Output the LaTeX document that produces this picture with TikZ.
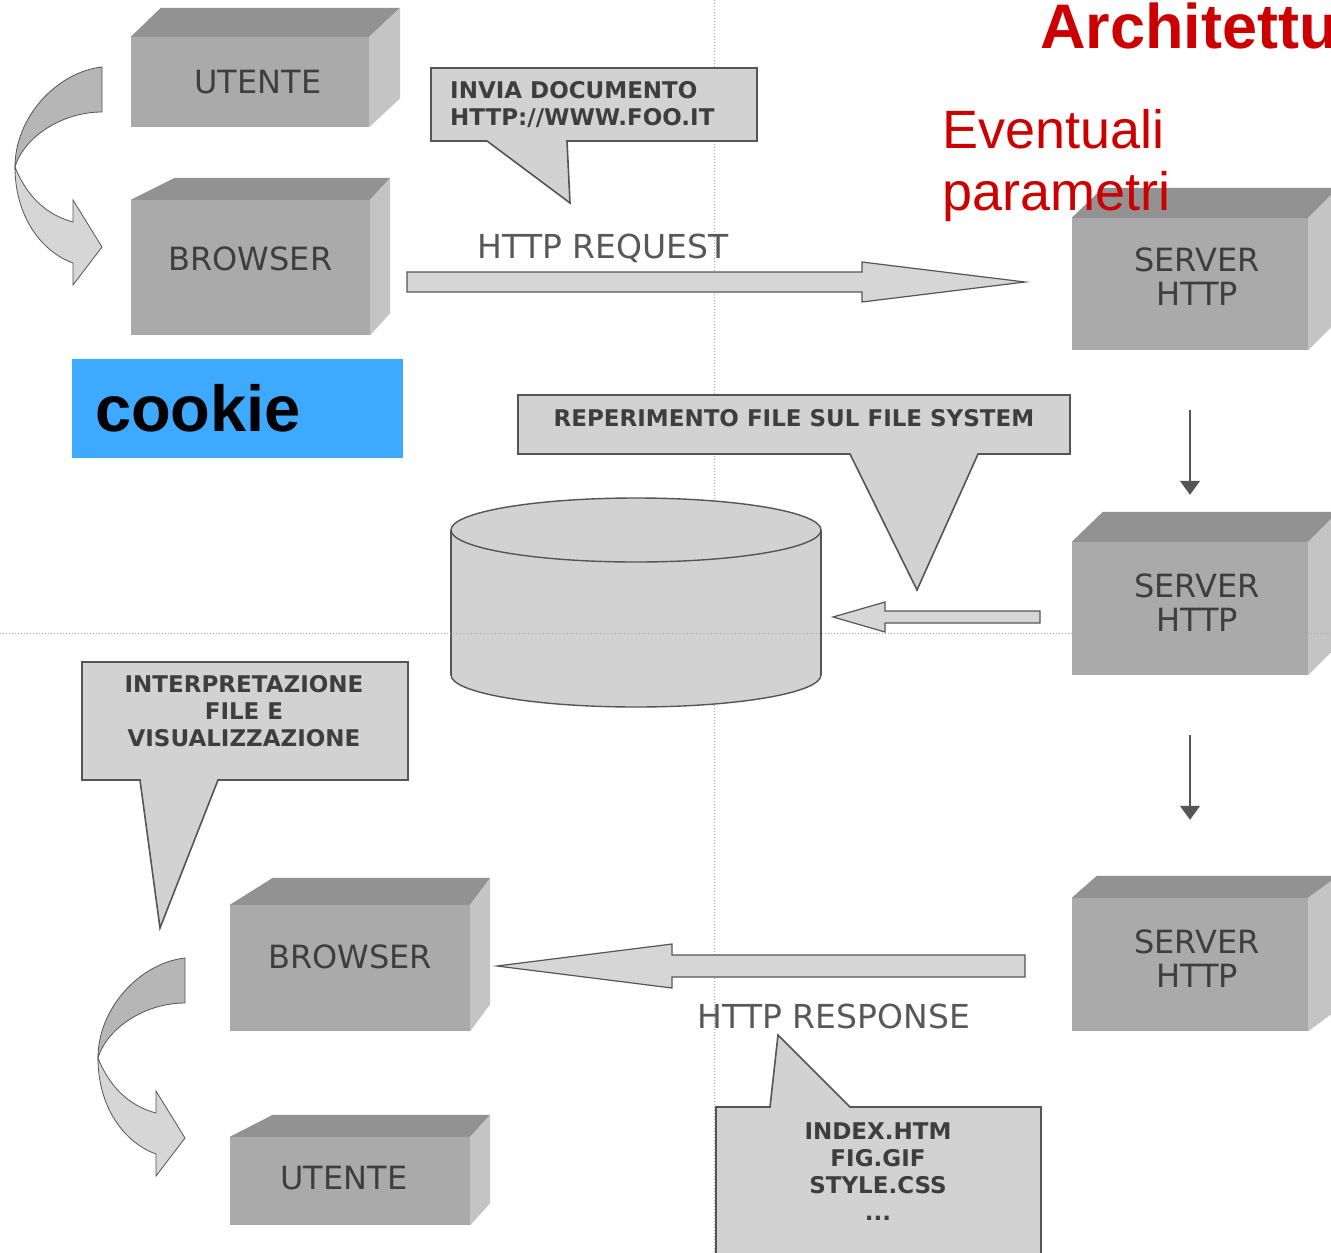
\documentclass[tikz,border=0pt]{standalone}
\usepackage{fontspec}
\setmainfont{Liberation Sans}
\newfontfamily\boxfont{DejaVu Sans}
\usetikzlibrary{calc,arrows.meta}

\definecolor{boxfront}{RGB}{170,170,170}
\definecolor{boxtop}{RGB}{146,146,146}
\definecolor{boxside}{RGB}{196,196,196}
\definecolor{boxtext}{RGB}{62,62,62}
\definecolor{callfill}{RGB}{210,210,210}
\definecolor{calledge}{RGB}{85,85,85}
\definecolor{arrowfill}{RGB}{214,214,214}
\definecolor{turndark}{RGB}{182,182,182}
\definecolor{turnlight}{RGB}{214,214,214}
\definecolor{cookieblue}{RGB}{61,170,255}
\definecolor{titlered}{RGB}{204,0,0}
\definecolor{labelgray}{RGB}{88,88,88}

% top and right faces of a box node
\newcommand{\cubefaces}[4]{%
  \fill[boxtop] (#1.north west) -- ++(#2,-#4) -- ($(#1.north east)+(#3,-#4)$) -- (#1.north east) -- cycle;
  \fill[boxside] (#1.north east) -- ($(#1.north east)+(#3,-#4)$) -- ($(#1.south east)+(#3,-#4)$) -- (#1.south east) -- cycle;}

% lifts the text of a box a little
\newcommand{\lift}[1]{\rule[-#1pt]{0pt}{0pt}}

% horizontal block arrow: from, to, shaft half, head half, head length
\newcommand{\blockarrow}[5]{%
  \filldraw[blockarrow] let \p1=(#1), \p2=(#2), \n1={\x2-(#5)} in
    ({\x1},{\y1+#3}) -- ({\n1},{\y1+#3}) -- ({\n1},{\y1+#4}) -- ({\x2},{\y1})
    -- ({\n1},{\y1-#4}) -- ({\n1},{\y1-#3}) -- ({\x1},{\y1-#3}) -- cycle;}

\tikzset{turnarrow/.pic={
  \filldraw[fill=turndark, draw=calledge, line width=0.8] (0,0) .. controls (-45,5) and (-87,50) .. (-87,100)
    .. controls (-78,70) and (-40,45) .. (0,45) -- cycle;
  \filldraw[fill=turnlight, draw=calledge, line width=0.8] (-87,100) .. controls (-75,130) and (-55,148) .. (-29,155)
    -- (-29,133) -- (0,180) -- (-29,218) -- (-29,196) .. controls (-60,185) and (-87,150) .. (-87,100) -- cycle;
}}

\begin{document}
\begin{tikzpicture}[x=1pt,y=-1pt,
  cube/.style={fill=boxfront, inner sep=0, align=center, text=boxtext,
    font=\boxfont\fontsize{32}{34}\selectfont},
  callout/.style={fill=callfill, draw=calledge, line width=1.6, line join=miter},
  calltext/.style={font=\boxfont\bfseries\fontsize{23}{27}\selectfont, text=boxtext, align=center, inner sep=0},
  blockarrow/.style={fill=arrowfill, draw=calledge, line width=1.2},
  guide/.style={draw=gray!70, dotted, line width=1},
  httplabel/.style={font=\boxfont\fontsize{33}{33}\selectfont, text=labelgray, inner sep=0, anchor=base}]
  \useasboundingbox (0,0) rectangle (1331,1253);
  \fill[white] (0,0) rectangle (1331,1253);

  \draw[guide] (714,0) -- (714,1253);

  \node[cube, minimum width=238, minimum height=90] (user1) at (250,82) {\hspace*{16pt}UTENTE};
  \cubefaces{user1}{30}{31}{29}
  \node[cube, minimum width=239, minimum height=135] (browser1) at (250.5,267.5) {BROWSER\lift{18}};
  \cubefaces{browser1}{44}{20}{22}
  \node[cube, minimum width=236, minimum height=132] (server1) at (1190,284) {\hspace*{14pt}SERVER\\\hspace*{14pt}HTTP\lift{14}};
  \cubefaces{server1}{31}{30}{30}
  \node[cube, minimum width=236, minimum height=133] (server2) at (1190,608.5) {\hspace*{14pt}SERVER\\\hspace*{14pt}HTTP\lift{11}};
  \cubefaces{server2}{31}{30}{30}
  \node[cube, minimum width=236, minimum height=133] (server3) at (1190,964.5) {\hspace*{14pt}SERVER\\\hspace*{14pt}HTTP\lift{12}};
  \cubefaces{server3}{25}{30}{22}
  \node[cube, minimum width=240, minimum height=126] (browser2) at (350,968) {BROWSER\lift{22}};
  \cubefaces{browser2}{43}{20}{27}
  \node[cube, minimum width=240, minimum height=88] (user2) at (350,1181) {UTENTE\hspace*{12pt}\lift{6}};
  \cubefaces{user2}{43}{20}{22}

  \pic at (102,67) {turnarrow};
  \pic at (185,958) {turnarrow};

  \filldraw[callout] (431,68) -- (757,68) -- (757,141) -- (567,141) -- (570,203) -- (487,141) -- (431,141) -- cycle;
  \node[calltext, anchor=west, align=left] (invia) at (450,105) {INVIA DOCUMENTO\\HTTP://WWW.FOO.IT};
  \filldraw[callout] (518,395) -- (1070,395) -- (1070,454) -- (978,454) -- (917,590) -- (850,454) -- (518,454) -- cycle;
  \node[calltext] (fetch) at (794,418) {REPERIMENTO FILE SUL FILE SYSTEM};
  \filldraw[callout] (82,662) -- (408,662) -- (408,780) -- (218,780) -- (160,928) -- (140,780) -- (82,780) -- cycle;
  \node[calltext] (render) at (244,711) {INTERPRETAZIONE\\FILE E\\VISUALIZZAZIONE};
  \filldraw[callout] (716,1107) -- (770,1107) -- (778,1035) -- (850,1107) -- (1041,1107) -- (1041,1262) -- (716,1262) -- cycle;
  \node[calltext] (files) at (878,1172) {INDEX.HTM\\FIG.GIF\\STYLE.CSS\\...};

  % disk
  \fill[callfill] (451,530) rectangle (821,675);
  \fill[callfill] (636,675) ellipse (185 and 32);
  \begin{scope}
    \clip (440,675) rectangle (830,720);
    \draw[calledge, line width=1.4] (636,675) ellipse (185 and 32);
  \end{scope}
  \draw[calledge, line width=1.4] (451,530) -- (451,675) (821,530) -- (821,675);
  \filldraw[fill=callfill, draw=calledge, line width=1.4] (636,530) ellipse (185 and 32);
  \coordinate (disk) at (636,602);

  \coordinate (req-a) at (407,282);
  \coordinate (req-b) at (1025,282);
  \blockarrow{req-a}{req-b}{10pt}{20pt}{163pt}
  \node[httplabel] (reqlabel) at (603,258) {HTTP REQUEST};

  \coordinate (fetch-a) at (1040,617);
  \coordinate (fetch-b) at (833,617);
  \blockarrow{fetch-a}{fetch-b}{6pt}{15pt}{-52pt}

  \coordinate (resp-a) at (1025,966);
  \coordinate (resp-b) at (497,966);
  \blockarrow{resp-a}{resp-b}{11pt}{22pt}{-175pt}
  \node[httplabel] (resplabel) at (834,1028) {HTTP RESPONSE};

  \draw[calledge, line width=1.3, -{Triangle[width=20,length=14]}] ($(server1.south)+(0,60)$) -- ($(server2.north)+(0,-47)$);
  \draw[calledge, line width=1.3, -{Triangle[width=20,length=14]}] ($(server2.south)+(0,60)$) -- ($(server3.north)+(0,-78)$);

  \draw[guide] (0,633) -- (1331,633);

  \node[fill=cookieblue, minimum width=331, minimum height=99, text width=285, inner xsep=23, align=left,
    font=\fontsize{65}{65}\selectfont\bfseries] (cookie) at (237.5,408.5) {cookie};

  \node[anchor=base west, inner sep=0, text=titlered, font=\fontsize{63}{63}\selectfont\bfseries] (title) at (1040,48) {Architettu};
  \node[anchor=base west, inner sep=0, text=titlered, font=\fontsize{54}{54}\selectfont] (ev) at (942,148) {Eventuali};
  \node[anchor=base west, inner sep=0, text=titlered, font=\fontsize{54}{54}\selectfont] (par) at (942,210) {parametri};
\end{tikzpicture}
\end{document}
